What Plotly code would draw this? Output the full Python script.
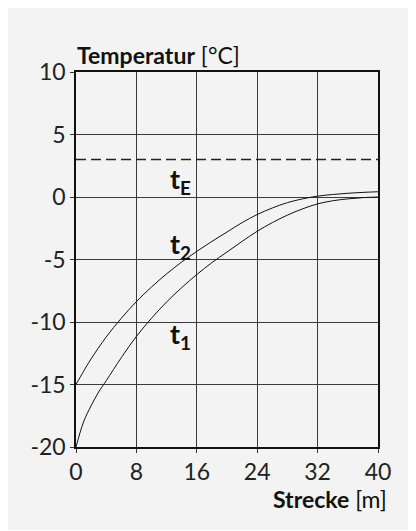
import plotly.graph_objects as go

# Data
strecke_t1 = [0, 1, 2, 3, 4, 6, 8, 10, 12, 14, 16, 18, 20, 22, 24, 26, 28, 30, 32, 34, 36, 38, 40]
temp_t1 = [-20, -18.0, -16.7, -15.6, -14.7, -12.85, -11.15, -9.7, -8.4, -7.25, -6.2, -5.25, -4.4,
           -3.55, -2.74, -2.05, -1.45, -0.95, -0.55, -0.3, -0.15, -0.05, 0.0]

strecke_t2 = [0, 1, 2, 4, 6, 8, 10, 12, 14, 16, 18, 20, 22, 24, 26, 28, 30, 32, 34, 36, 38, 40]
temp_t2 = [-15, -13.95, -12.95, -11.2, -9.7, -8.37, -7.2, -6.15, -5.2, -4.35, -3.55, -2.8,
           -2.05, -1.4, -0.88, -0.45, -0.15, 0.07, 0.2, 0.3, 0.37, 0.42]

strecke_tE = [0, 40]
temp_tE = [3, 3]

x_ticks = [0, 8, 16, 24, 32, 40]
x_tick_labels = ["0", "8", "16", "24", "32", "40"]
y_ticks = [-20, -15, -10, -5, 0, 5, 10]
y_tick_labels = ["-20", "-15", "-10", "-5", "0", "5", "10"]

labels = ["t<sub>E</sub>", "t<sub>2</sub>", "t<sub>1</sub>"]
label_x = [13.9, 13.9, 13.9]
label_y = [1.3, -3.85, -11.05]

FONT = "Lato"
BG = "#f3f3f3"

fig = go.Figure()
fig.add_trace(go.Scatter(x=strecke_t1, y=temp_t1, mode="lines", line=dict(color="#111", width=1, shape="spline"),
                         showlegend=False, hoverinfo="skip"))
fig.add_trace(go.Scatter(x=strecke_t2, y=temp_t2, mode="lines", line=dict(color="#111", width=1, shape="spline"),
                         showlegend=False, hoverinfo="skip"))
fig.add_trace(go.Scatter(x=strecke_tE, y=temp_tE, mode="lines", line=dict(color="#222", width=1.3, dash="10px,5px"),
                         showlegend=False, hoverinfo="skip"))

for t, lx, ly in zip(labels, label_x, label_y):
    fig.add_annotation(x=lx, y=ly, xref="x", yref="y", text="<b>" + t + "</b>", showarrow=False,
                       font=dict(family=FONT, size=27, color="#111"), xanchor="center", yanchor="middle")

fig.add_annotation(x=0, y=1, xref="paper", yref="paper", xanchor="left", yanchor="bottom", yshift=1, xshift=-1,
                   text="<b>Temperatur</b> [°C]", showarrow=False,
                   font=dict(family=FONT, size=23, color="#111"))
fig.add_annotation(x=1, y=0, xref="paper", yref="paper", xanchor="right", yanchor="top", xshift=11, yshift=-36,
                   text="<b>Strecke</b> [m]", showarrow=False,
                   font=dict(family=FONT, size=23, color="#111"))

axis_common = dict(showgrid=True, gridcolor="#3a3a3a", gridwidth=1, zeroline=False,
                   showline=True, linecolor="#111", linewidth=1.5, mirror=True,
                   ticks="outside", ticklen=4, tickcolor="#333",
                   tickfont=dict(family=FONT, size=23, color="#222"))

fig.update_xaxes(range=[0, 40], tickvals=x_ticks, ticktext=x_tick_labels, **axis_common)
fig.update_yaxes(range=[-20, 10], tickvals=y_ticks, ticktext=y_tick_labels, **axis_common)

fig.update_layout(width=404, height=522, paper_bgcolor=BG, plot_bgcolor=BG,
                  margin=dict(l=68, r=34, t=64, b=83), showlegend=False)

fig.write_html("out.html")
